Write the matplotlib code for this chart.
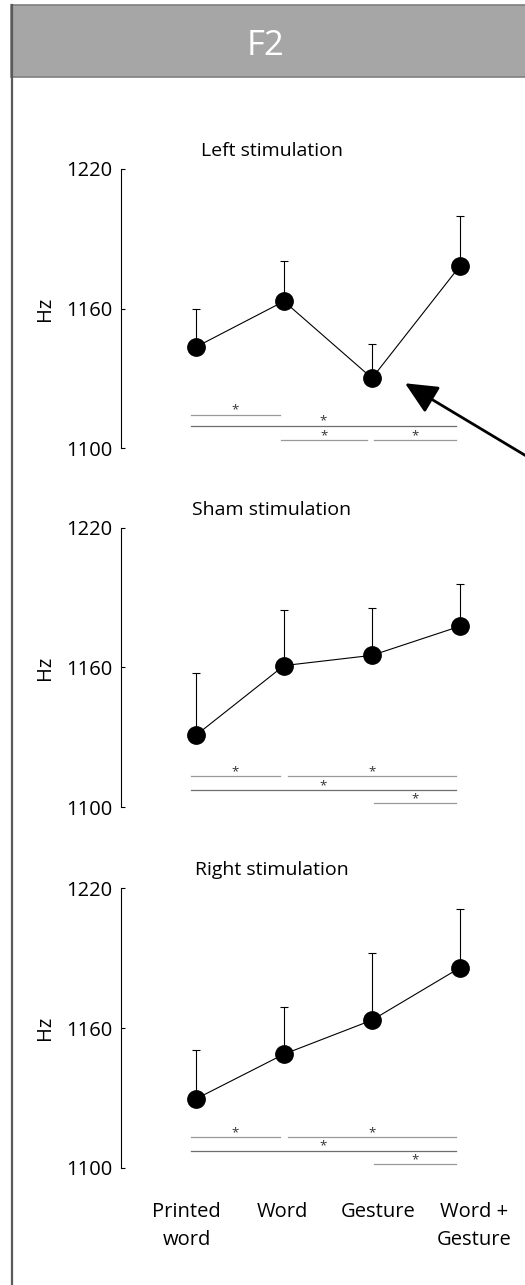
"""
F2 formant by stimulation side: mean + upward SEM, with pairwise significance bars.
"""
import matplotlib
matplotlib.use("Agg")
import matplotlib.pyplot as plt
from matplotlib.patches import Rectangle
from matplotlib.lines import Line2D

plt.rcParams["font.family"] = ["Open Sans", "DejaVu Sans"]

conditions = ["Printed\nword", "Word", "Gesture", "Word +\nGesture"]
panel_titles = ["Left stimulation", "Sham stimulation", "Right stimulation"]

left_mean = [1143.6, 1163.2, 1130.2, 1178.4]
left_sem = [16.4, 17.4, 14.8, 21.4]
sham_mean = [1130.9, 1160.8, 1165.2, 1177.7]
sham_sem = [26.6, 23.9, 20.5, 18.3]
right_mean = [1129.6, 1148.8, 1163.4, 1185.9]
right_sem = [20.8, 20.4, 28.7, 25.2]

# significant pairwise comparisons (condition indices)
left_sig = [(0, 1), (0, 3), (1, 2), (2, 3)]
sham_sig = [(0, 1), (1, 3), (0, 3), (2, 3)]
right_sig = [(0, 1), (1, 3), (0, 3), (2, 3)]

yticks = [1100, 1160, 1220]

# --- layout / style -------------------------------------------------------
W, H = 525, 1285
AX_LEFT, AX_RIGHT = 121, 480          # px
AX_TOPS = [169, 527.7, 888.3]          # px
AX_H = 279.5
XLIM = (-0.852, 3.227)

ROW = {
    "left": {(0, 1): 0, (0, 3): 1, (1, 2): 2, (2, 3): 2},
    "other": {(0, 1): 0, (1, 3): 0, (0, 3): 1, (2, 3): 2},
}
LEVELS = {"left": [1114.5, 1109.8, 1103.7], "other": [1113.2, 1107.4, 1101.6]}
SPAN = {(0, 1): (-0.057, 0.955), (0, 3): (-0.057, 2.95), (1, 2): (0.962, 1.943),
        (2, 3): (2.025, 2.95), (1, 3): (1.04, 2.95)}
LABEL_X = [-0.106, 0.985, 2.07, 3.16]
LABEL_BASELINES = [1078.95, 1066.9]   # data units, below the axis

fig = plt.figure(figsize=(W / 100, H / 100), dpi=100)
fig.patch.set_facecolor("white")

# header band and frame
fig.add_artist(Rectangle((11 / W, 1 - 77 / H), 1, 72 / H, transform=fig.transFigure,
                         facecolor="#a6a6a6", edgecolor="#7f7f7f", linewidth=1.2))
fig.add_artist(Line2D([11.5 / W, 11.5 / W], [0, 1 - 5 / H], transform=fig.transFigure,
                      color="#5a5a5a", linewidth=1.6))
fig.text(265 / W, 1 - 46 / H, "F2", color="white", fontsize=25,
         ha="center", va="center")

panels = [
    (left_mean, left_sem, left_sig, "left"),
    (sham_mean, sham_sem, sham_sig, "other"),
    (right_mean, right_sem, right_sig, "other"),
]

for k, (means, sems, sig, key) in enumerate(panels):
    top = AX_TOPS[k]
    ax = fig.add_axes([AX_LEFT / W, 1 - (top + AX_H) / H,
                       (AX_RIGHT - AX_LEFT) / W, AX_H / H])
    xs = list(range(len(means)))

    ax.errorbar(xs, means, yerr=[[0] * len(sems), sems], fmt="none",
                ecolor="black", elinewidth=0.8, capsize=3, capthick=0.8, zorder=2)
    ax.plot(xs, means, color="black", linewidth=0.8, marker="o", markersize=12.5,
            markerfacecolor="black", markeredgecolor="black", zorder=3, clip_on=False)

    for pair in sig:
        x0, x1 = SPAN[pair]
        row = ROW[key][pair]
        lvl = LEVELS[key][row]
        col = "#6e6e6e" if pair == (0, 3) else "#999999"
        ax.plot([x0, x1], [lvl, lvl], color=col, linewidth=0.9, zorder=1)
        ax.text((x0 + x1) / 2, lvl + 0.4, "*", fontsize=9.5, color="#333333",
                ha="center", va="baseline")

    ax.set_xlim(*XLIM)
    ax.set_ylim(1100, 1220)
    ax.set_yticks(yticks)
    ax.set_xticks([])
    for s in ["top", "right", "bottom"]:
        ax.spines[s].set_visible(False)
    ax.spines["left"].set_linewidth(0.8)
    ax.tick_params(axis="y", direction="in", length=3, width=0.8,
                   labelsize=14.5, pad=6)
    ax.patch.set_alpha(0)

    ax.text(0.42, 1.065, panel_titles[k], transform=ax.transAxes,
            fontsize=14, ha="center", va="center")
    ax.text(-0.212, 0.5, "Hz", transform=ax.transAxes, rotation=90,
            fontsize=14.5, ha="center", va="center")

    if k == 0:
        ax.annotate("", xy=(2.375, 1128), xytext=(4.14, 1088),
                    arrowprops=dict(arrowstyle="-|>,head_length=0.9,head_width=0.42",
                                    color="black", lw=2, mutation_scale=22,
                                    shrinkA=0, shrinkB=0),
                    annotation_clip=False)
    if k == 2:
        for lx, lab in zip(LABEL_X, conditions):
            for line, yb in zip(lab.split("\n"), LABEL_BASELINES):
                ax.text(lx, yb, line, fontsize=14.5, ha="center", va="baseline",
                        clip_on=False)

fig.savefig("out.png", dpi=100, facecolor="white")
